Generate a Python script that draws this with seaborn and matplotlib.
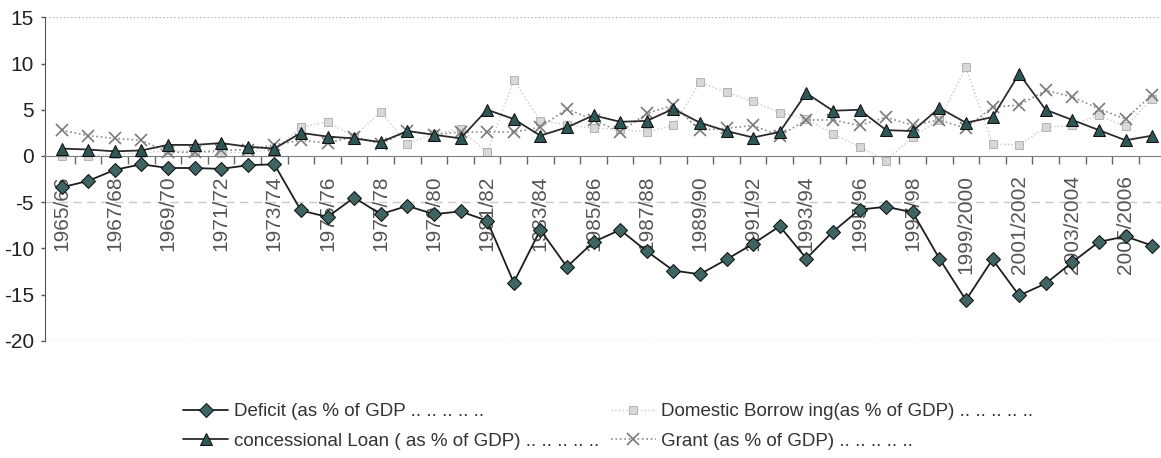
"""
Deficit and its financing (as % of GDP), 1965/66 - 2006/07.
Line chart with the category axis crossing at zero.
"""
import pandas as pd
import seaborn as sns
import matplotlib.pyplot as plt

years = ['1965/66', '1966/67', '1967/68', '1968/69', '1969/70', '1970/71', '1971/72',
         '1972/73', '1973/74', '1974/75', '1975/76', '1976/77', '1977/78', '1978/79',
         '1979/80', '1980/81', '1981/82', '1982/83', '1983/84', '1984/85', '1985/86',
         '1986/87', '1987/88', '1988/89', '1989/90', '1990/91', '1991/92', '1992/93',
         '1993/94', '1994/95', '1995/96', '1996/97', '1997/98', '1998/99', '1999/2000',
         '2000/2001', '2001/2002', '2002/2003', '2003/2004', '2004/2005', '2005/2006',
         '2006/2007']

deficit = [-3.4, -2.7, -1.5, -0.9, -1.3, -1.3, -1.4, -1.0, -0.9, -5.9, -6.6, -4.5, -6.3, -5.4,
           -6.3, -6.0, -7.0, -13.7, -8.0, -12.0, -9.3, -8.0, -10.3, -12.4, -12.8, -11.2, -9.5,
           -7.6, -11.1, -8.2, -5.8, -5.5, -6.1, -11.1, -15.6, -11.2, -15.1, -13.8, -11.5, -9.3,
           -8.7, -9.7]
loan = [0.8, 0.7, 0.5, 0.6, 1.2, 1.2, 1.4, 1.0, 0.8, 2.5, 2.1, 1.9, 1.5, 2.7, 2.3, 1.9, 5.0,
        4.0, 2.2, 3.1, 4.4, 3.7, 3.8, 5.1, 3.6, 2.7, 2.0, 2.6, 6.8, 4.9, 5.0, 2.8, 2.7, 5.2, 3.6,
        4.2, 8.9, 5.0, 3.9, 2.8, 1.7, 2.2]
domestic = [0.0, 0.0, 0.2, 0.3, 0.6, 0.5, 0.3, 0.4, 0.7, 3.1, 3.7, 2.1, 4.8, 1.3, 2.4, 2.9, 0.4,
            8.2, 3.8, 3.4, 3.0, 2.9, 2.6, 3.3, 8.0, 6.9, 5.9, 4.7, 4.0, 2.4, 1.0, -0.5, 2.1, 3.9,
            9.6, 1.3, 1.2, 3.1, 3.3, 4.4, 3.2, 6.2]
grant = [2.8, 2.2, 1.9, 1.7, 0.4, 0.4, 0.6, 0.7, 1.2, 1.7, 1.4, 2.1, 1.3, 2.7, 2.3, 2.6, 2.6,
         2.6, 3.1, 5.1, 3.9, 2.6, 4.6, 5.5, 2.8, 3.0, 3.3, 2.2, 3.9, 3.9, 3.3, 4.2, 3.3, 3.9, 3.0,
         5.3, 5.5, 7.1, 6.4, 5.1, 4.0, 6.6]

labels = ['Deficit (as % of GDP .. .. .. .. ..',
          'concessional Loan ( as % of GDP) .. .. .. .. ..',
          'Domestic Borrow ing(as % of GDP) .. .. .. .. ..',
          'Grant (as % of GDP) .. .. .. .. ..']
y_ticks = [15, 10, 5, 0, -5, -10, -15, -20]

df = pd.DataFrame({'year': years, 'deficit': deficit, 'loan': loan,
                   'domestic': domestic, 'grant': grant})

sns.set_style('white')
plt.rcParams['font.family'] = ['Liberation Sans', 'DejaVu Sans']

fig = plt.figure(figsize=(11.61, 4.58), dpi=100)
ax = fig.add_axes([0.0388, 0.256, 0.965, 0.706])

# background lines first
ax.axhline(-5, color='#c8c8c8', lw=1, ls=(0, (6, 4)), zorder=0)
ax.axhline(15, color='#b0b0b0', lw=1, ls=':', zorder=0)
ax.axhline(-20, color='#b0b0b0', lw=1, ls=':', zorder=0)

sns.lineplot(data=df, x='year', y='domestic', sort=False, ax=ax, label=labels[2],
             color='#cacaca', lw=1, linestyle=':', marker='s', markersize=6,
             markerfacecolor='#d8d8d8', markeredgecolor='#b4b4b4', zorder=2)
sns.lineplot(data=df, x='year', y='grant', sort=False, ax=ax, label=labels[3],
             color='#8a8a8a', lw=1.2, linestyle=':', marker='x', markersize=9,
             markeredgewidth=1.2, markeredgecolor='#7a7a7a', zorder=3)
sns.lineplot(data=df, x='year', y='loan', sort=False, ax=ax, label=labels[1],
             color='#2b2b2b', lw=1.3, marker='^', markersize=8,
             markerfacecolor='#2f5656', markeredgecolor='#111111', zorder=4)
sns.lineplot(data=df, x='year', y='deficit', sort=False, ax=ax, label=labels[0],
             color='#1e1e1e', lw=1.3, marker='D', markersize=7,
             markerfacecolor='#3e6464', markeredgecolor='#111111', zorder=5)

ax.set_xlim(-0.62, len(years) - 0.5)
ax.set_ylim(-20, 15)
ax.set_yticks(y_ticks)
ax.set_yticklabels([str(v) for v in y_ticks], fontsize=15, color='#222222')
ax.tick_params(axis='y', length=3, width=1, color='#555555', pad=5, left=True)

# category axis crossing at zero, labels every other year
ax.spines['bottom'].set_position(('data', 0))
ax.spines['bottom'].set_color('#808080')
ax.spines['left'].set_color('#555555')
ax.spines['top'].set_visible(False)
ax.spines['right'].set_visible(False)
ax.set_xticks(range(0, len(years), 2))
ax.set_xticklabels(years[::2], rotation=90, fontsize=15, color='#555555',
                   ha='center', va='top')
ax.set_xticks([i + 0.5 for i in range(len(years))], minor=True)
ax.tick_params(axis='x', which='major', length=0, pad=14)
ax.tick_params(axis='x', which='minor', length=6, width=1, color='#666666',
               direction='out', bottom=True)
ax.set_xlabel('')
ax.set_ylabel('')

handles, _ = ax.get_legend_handles_labels()
ax.get_legend().remove()
by_label = dict(zip([h.get_label() for h in handles], handles))
fig.legend([by_label[l] for l in labels], labels, ncol=2, frameon=False,
           loc='upper left', bbox_to_anchor=(174 / 1161, 1 - 394 / 458),
           borderpad=0, handlelength=2.4, handletextpad=0.3, columnspacing=0.6,
           labelspacing=0.65, fontsize=13.5, labelcolor='#333333')

fig.savefig('out.png', dpi=100)
